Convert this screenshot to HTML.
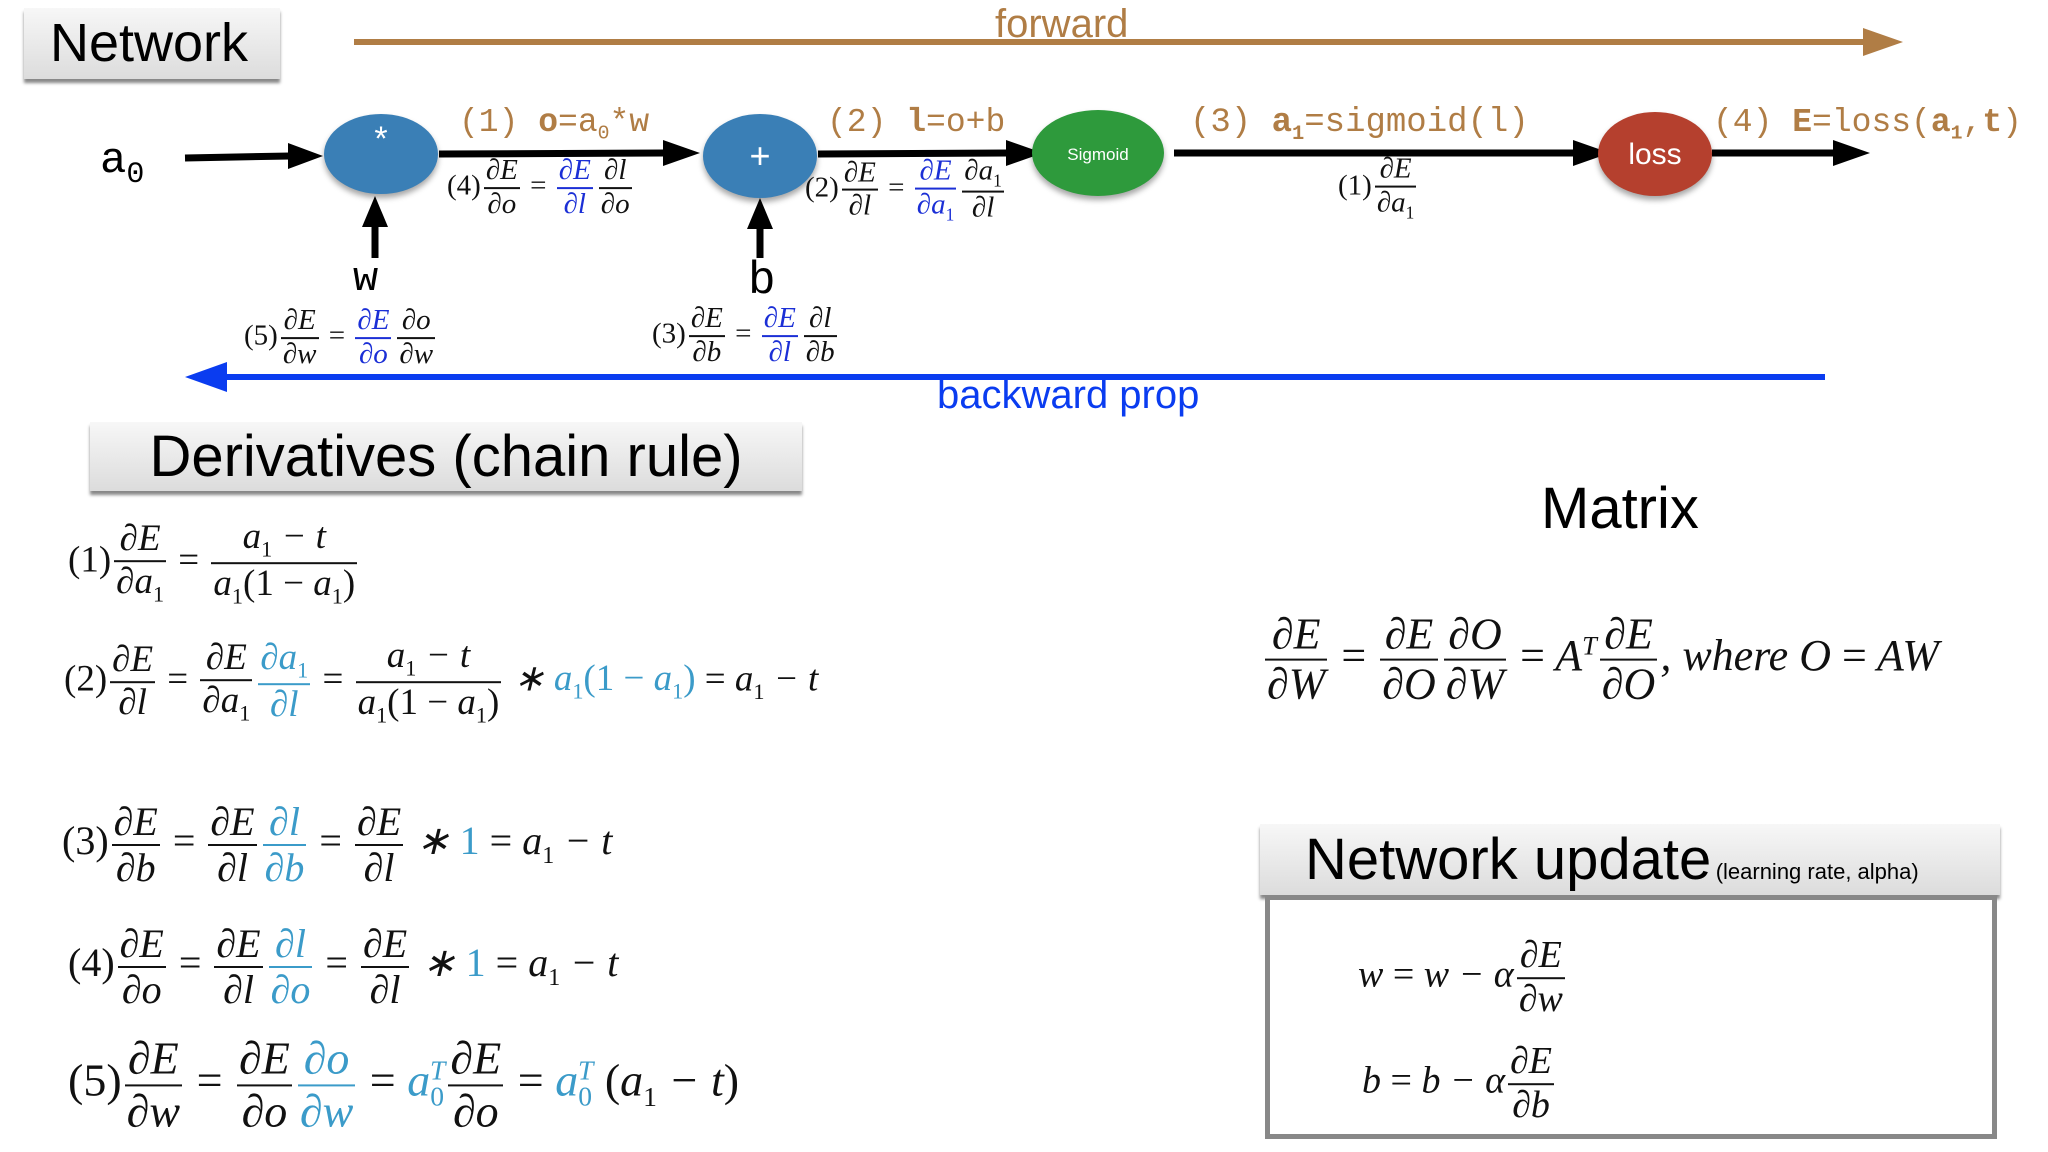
<!DOCTYPE html>
<html><head><meta charset="utf-8"><style>
*{margin:0;padding:0;box-sizing:border-box}
body{width:2048px;height:1152px;background:#fff;position:relative;overflow:hidden;font-family:"Liberation Sans",sans-serif}
.a{position:absolute;white-space:nowrap}
.m{font-family:"Liberation Serif",serif;font-style:italic;color:#111}
.m .r{font-style:normal}
.f{display:inline-flex;flex-direction:column;vertical-align:middle;text-align:center;margin:0 3px}
.f>span{display:block;line-height:1.1;padding:0 2px}
.f>span:first-child{border-bottom:2px solid currentColor}
.lb{color:#3b9bc9}
.db{color:#1b2fd6}
.eq{transform:translateY(-50%)}
.hdr{position:absolute;background:linear-gradient(#f7f7f7,#dcdcdc);box-shadow:0 4px 3px #888;color:#000}
.mono{font-family:"Liberation Mono",monospace;color:#b07d45}
sub{font-size:60%;font-style:normal}
</style></head><body>

<div class="hdr" style="left:24px;top:8px;width:256px;height:71px;font-size:54px;line-height:71px;padding-left:26px">Network</div>

<svg class="a" style="left:0;top:0" width="2048" height="1152">
<line x1="354" y1="42" x2="1868" y2="42" stroke="#b07d45" stroke-width="6"/>
<path d="M1863,28 L1903,42 L1863,56z" fill="#b07d45"/>
<line x1="225" y1="377" x2="1825" y2="377" stroke="#0a3cf0" stroke-width="6"/>
<path d="M227,362 L185,377 L227,392z" fill="#0a3cf0"/>
<g stroke="#000" stroke-width="7">
<line x1="185" y1="158" x2="290" y2="156"/>
<line x1="439" y1="154" x2="665" y2="153"/>
<line x1="818" y1="154" x2="1008" y2="153"/>
<line x1="1174" y1="153" x2="1575" y2="153"/>
<line x1="1712" y1="153" x2="1835" y2="153"/>
<line x1="375" y1="258" x2="375" y2="225"/>
<line x1="760" y1="258" x2="760" y2="227"/>
</g>
<g fill="#000">
<path d="M288,143 L323,156 L288,169z"/>
<path d="M663,140 L700,153 L663,166z"/>
<path d="M1006,140 L1043,153 L1006,166z"/>
<path d="M1573,140 L1610,153 L1573,166z"/>
<path d="M1833,140 L1870,153 L1833,166z"/>
<path d="M362,227 L375,196 L388,227z"/>
<path d="M747,229 L760,198 L773,229z"/>
</g>
<g style="filter:drop-shadow(0 4px 3px rgba(0,0,0,.35))">
<ellipse cx="381" cy="154" rx="57" ry="40" fill="#3a7fb6"/>
<ellipse cx="760" cy="156" rx="57" ry="42" fill="#3a7fb6"/>
<ellipse cx="1098" cy="153" rx="66" ry="43" fill="#2e9a3c"/>
<ellipse cx="1655" cy="154" rx="57" ry="42" fill="#b5402e"/>
</g>
<text x="381" y="150" fill="#fff" font-size="34" text-anchor="middle" font-family="Liberation Sans">*</text>
<text x="760" y="168" fill="#fff" font-size="36" text-anchor="middle" font-family="Liberation Sans">+</text>
<text x="1098" y="160" fill="#fff" font-size="17" text-anchor="middle" font-family="Liberation Sans">Sigmoid</text>
<text x="1655" y="164" fill="#fff" font-size="30" text-anchor="middle" font-family="Liberation Sans">loss</text>
</svg>

<div class="a" style="left:995px;top:0px;font-size:40px;color:#b07d45;line-height:48px">forward</div>
<div class="a" style="left:937px;top:370px;font-size:40px;color:#0a3cf0;line-height:50px">backward prop</div>

<div class="a" style="left:100px;top:136px;font-family:'Liberation Mono',monospace;font-size:44px">a<sub style="font-size:30px">0</sub></div>
<div class="a" style="left:353px;top:255px;font-family:'Liberation Mono',monospace;font-size:42px">w</div>
<div class="a" style="left:748px;top:255px;font-family:'Liberation Mono',monospace;font-size:46px">b</div>

<div class="a mono" style="left:459px;top:104px;font-size:33px">(1) <b>o</b>=a<sub>0</sub>*w</div>
<div class="a mono" style="left:827px;top:104px;font-size:33px">(2) <b>l</b>=o+b</div>
<div class="a mono" style="left:1190px;top:104px;font-size:34px">(3) <b>a<sub>1</sub></b>=sigmoid(l)</div>
<div class="a mono" style="left:1713px;top:104px;font-size:33px">(4) <b>E</b>=loss(<b>a<sub>1</sub></b>,<b>t</b>)</div>

<div class="a m eq" style="left:447px;top:188px;font-size:29px"><span class="r">(4)</span><span class="f"><span>∂E</span><span>∂o</span></span> <span class="r">=</span> <span class="f db"><span>∂E</span><span>∂l</span></span><span class="f"><span>∂l</span><span>∂o</span></span></div>
<div class="a m eq" style="left:805px;top:190px;font-size:29px"><span class="r">(2)</span><span class="f"><span>∂E</span><span>∂l</span></span> <span class="r">=</span> <span class="f db"><span>∂E</span><span>∂a<sub>1</sub></span></span><span class="f"><span>∂a<sub>1</sub></span><span>∂l</span></span></div>
<div class="a m eq" style="left:1338px;top:188px;font-size:29px"><span class="r">(1)</span><span class="f"><span>∂E</span><span>∂a<sub>1</sub></span></span></div>
<div class="a m eq" style="left:244px;top:338px;font-size:29px"><span class="r">(5)</span><span class="f"><span>∂E</span><span>∂w</span></span> <span class="r">=</span> <span class="f db"><span>∂E</span><span>∂o</span></span><span class="f"><span>∂o</span><span>∂w</span></span></div>
<div class="a m eq" style="left:652px;top:336px;font-size:29px"><span class="r">(3)</span><span class="f"><span>∂E</span><span>∂b</span></span> <span class="r">=</span> <span class="f db"><span>∂E</span><span>∂l</span></span><span class="f"><span>∂l</span><span>∂b</span></span></div>

<div class="hdr" style="left:90px;top:422px;width:712px;height:69px;font-size:58px;line-height:69px;text-align:center">Derivatives (chain rule)</div>

<div class="a m eq" style="left:68px;top:563px;font-size:37px"><span class="r">(1)</span><span class="f"><span>∂E</span><span>∂a<sub>1</sub></span></span> <span class="r">=</span> <span class="f"><span>a<sub>1</sub> − t</span><span>a<sub>1</sub><span class="r">(1 −</span> a<sub>1</sub><span class="r">)</span></span></span></div>
<div class="a m eq" style="left:64px;top:682px;font-size:37px"><span class="r">(2)</span><span class="f"><span>∂E</span><span>∂l</span></span> <span class="r">=</span> <span class="f"><span>∂E</span><span>∂a<sub>1</sub></span></span><span class="f lb"><span>∂a<sub>1</sub></span><span>∂l</span></span> <span class="r">=</span> <span class="f"><span>a<sub>1</sub> − t</span><span>a<sub>1</sub><span class="r">(1 −</span> a<sub>1</sub><span class="r">)</span></span></span> ∗ <span class="lb">a<sub>1</sub><span class="r">(1 −</span> a<sub>1</sub><span class="r">)</span></span> <span class="r">=</span> a<sub>1</sub> − t</div>
<div class="a m eq" style="left:62px;top:845px;font-size:40px"><span class="r">(3)</span><span class="f"><span>∂E</span><span>∂b</span></span> <span class="r">=</span> <span class="f"><span>∂E</span><span>∂l</span></span><span class="f lb"><span>∂l</span><span>∂b</span></span> <span class="r">=</span> <span class="f"><span>∂E</span><span>∂l</span></span> ∗ <span class="lb r">1</span> <span class="r">=</span> a<sub>1</sub> − t</div>
<div class="a m eq" style="left:68px;top:967px;font-size:40px"><span class="r">(4)</span><span class="f"><span>∂E</span><span>∂o</span></span> <span class="r">=</span> <span class="f"><span>∂E</span><span>∂l</span></span><span class="f lb"><span>∂l</span><span>∂o</span></span> <span class="r">=</span> <span class="f"><span>∂E</span><span>∂l</span></span> ∗ <span class="lb r">1</span> <span class="r">=</span> a<sub>1</sub> − t</div>
<div class="a m eq" style="left:68px;top:1085px;font-size:46px"><span class="r">(5)</span><span class="f"><span>∂E</span><span>∂w</span></span> <span class="r">=</span> <span class="f"><span>∂E</span><span>∂o</span></span><span class="f lb"><span>∂o</span><span>∂w</span></span> <span class="r">=</span> <span class="lb">a<sub>0</sub><sup style="font-size:60%;margin-left:-14px">T</sup></span><span class="f"><span>∂E</span><span>∂o</span></span> <span class="r">=</span> <span class="lb">a<sub>0</sub><sup style="font-size:60%;margin-left:-14px">T</sup></span> <span class="r">(</span>a<sub>1</sub> − t<span class="r">)</span></div>

<div class="a" style="left:1541px;top:476px;font-size:58px;line-height:66px">Matrix</div>
<div class="a m eq" style="left:1262px;top:660px;font-size:44px"><span class="f"><span>∂E</span><span>∂W</span></span> <span class="r">=</span> <span class="f"><span>∂E</span><span>∂O</span></span><span class="f"><span>∂O</span><span>∂W</span></span> <span class="r">=</span> A<sup style="font-size:60%">T</sup><span class="f"><span>∂E</span><span>∂O</span></span>, where O <span class="r">=</span> AW</div>

<div class="hdr" style="left:1260px;top:824px;width:740px;height:71px;padding-left:45px;line-height:71px"><span style="font-size:58px">Network update</span> <span style="font-size:22px">(learning rate, alpha)</span></div>
<div class="a" style="left:1265px;top:895px;width:732px;height:244px;border:5px solid #888;background:#fff"></div>
<div class="a m eq" style="left:1358px;top:978px;font-size:38px">w <span class="r">=</span> w − α<span class="f"><span>∂E</span><span>∂w</span></span></div>
<div class="a m eq" style="left:1362px;top:1084px;font-size:38px">b <span class="r">=</span> b − α<span class="f"><span>∂E</span><span>∂b</span></span></div>

</body></html>
